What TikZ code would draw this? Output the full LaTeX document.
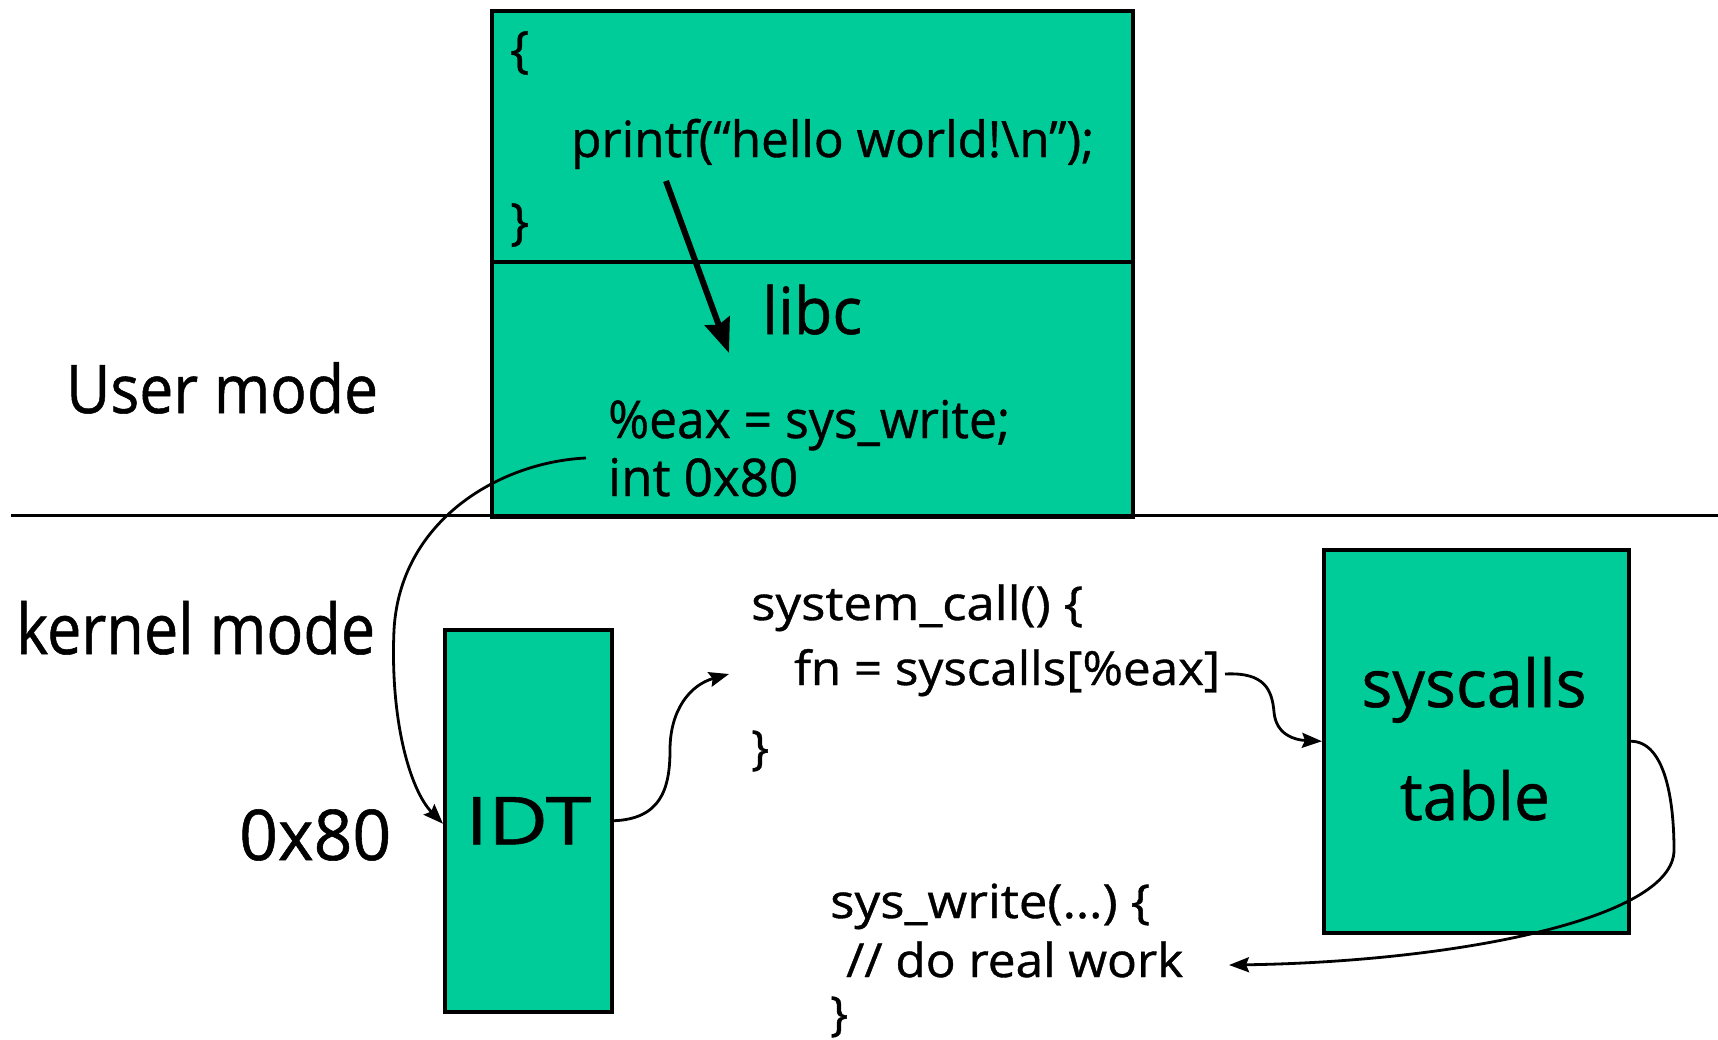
\documentclass[tikz,border=0pt]{standalone}
\usepackage{fontspec}
\setmainfont{Open Sans}[FakeBold=0.8]
\usepackage{graphicx}
\usetikzlibrary{arrows.meta}
\definecolor{boxgreen}{RGB}{0,204,153}
% font size in pt, and a horizontal fit to a given width
\newcommand\fsz[1]{\fontsize{#1}{#1}\selectfont}
\newcommand\fitto[2]{\resizebox{#1pt}{\height}{#2}}
\begin{document}
\begin{tikzpicture}[x=1pt,y=-1pt,
  panel/.style={draw=black,line width=3.5pt,fill=boxgreen,inner sep=0pt},
  lbl/.style={inner sep=0pt,anchor=base west},
  flow/.style={line width=2.8pt,-{Stealth[length=20pt,width=15pt,inset=3pt]}},
]
\useasboundingbox (0,0) rectangle (1718,1039);

% boxes
\node[panel,anchor=north west,minimum width=641pt,minimum height=251pt] (src) at (490,9) {};
\node[panel,anchor=north west,minimum width=641pt,minimum height=255pt] (libbox) at (490,260) {};
\node[panel,anchor=north west,minimum width=167pt,minimum height=382pt] (idt) at (443,628)
  {\fsz{66}\fitto{126}{IDT}};
\node[panel,anchor=north west,minimum width=305pt,minimum height=383pt] (tbl) at (1322,548) {};

% user / kernel boundary
\coordinate (ml) at (11,515);
\coordinate (mr) at (1718,515);
\draw[line width=3pt] (ml) -- (mr);

% user program
\node[inner sep=0pt,anchor=west] (ob) at (510,53) {\fsz{50}\{};
\node[lbl] (pf) at (571,157) {\fsz{50}\fitto{523}{printf(“hello world!\textbackslash n”);}};
\node[inner sep=0pt,anchor=west] (cb) at (510,225) {\fsz{50}\}};

% libc
\node[lbl] (libc) at (762,334) {\fsz{65}\fitto{100}{libc}};
\node[lbl] (eax) at (608,438) {\fsz{52}\fitto{402}{\%eax = sys\_write;}};
\node[lbl] (int) at (608,496) {\fsz{52}\fitto{190}{int 0x80}};

% mode labels
\node[lbl] (umode) at (66,413) {\fsz{67}\fitto{312}{User mode}};
\node[lbl] (kmode) at (16,654) {\fsz{70}\fitto{359}{kernel mode}};
\node[lbl] (vec) at (239,860) {\fsz{70}\fitto{152}{0x80}};

% system_call handler
\node[lbl] (sc1) at (751,620) {\fsz{47}\fitto{332}{system\_call() \{}};
\node[lbl] (sc2) at (794,685) {\fsz{47}\fitto{426}{fn = syscalls[\%eax]}};
\node[inner sep=0pt,anchor=west] (sc3) at (751,751) {\fsz{47}\}};

% syscalls table
\node[inner sep=0pt,anchor=base] (tl1) at (1474,707) {\fsz{66}\fitto{225}{syscalls}};
\node[inner sep=0pt,anchor=base] (tl2) at (1475,820) {\fsz{66}\fitto{150}{table}};

% sys_write
\node[lbl] (sw1) at (830,918) {\fsz{47}\fitto{320}{sys\_write(…) \{}};
\node[lbl] (sw2) at (846,977) {\fsz{47}\fitto{337}{// do real work}};
\node[inner sep=0pt,anchor=west] (sw3) at (830,1017) {\fsz{47}\}};

% printf -> libc
\coordinate (pa) at (666,181);
\coordinate (pb) at (729,353);
\draw[line width=6pt,-{Stealth[length=34pt,width=26pt,inset=4pt]}] (pa) -- (pb);

% int 0x80 -> IDT entry
\coordinate (c1s) at (586,458);
\draw[flow] (c1s) .. controls (500,462) and (400,520) .. (394,630)
  .. controls (390,720) and (410,790) .. ([yshift=-3pt]idt.west);

% IDT -> system_call
\coordinate (c2e) at (729,674);
\draw[flow] (idt.east) .. controls (660,819) and (670,790) .. (670,750)
  .. controls (670,710) and (690,685) .. (c2e);

% syscalls[%eax] -> table
\coordinate (c3s) at (1225,674);
\draw[flow] (c3s) .. controls (1265,672) and (1272,690) .. (1274,712)
  .. controls (1276,735) and (1295,740) .. (tbl.west);

% table -> sys_write
\coordinate (c4e) at (1229,965);
\draw[flow] (tbl.east) .. controls (1665,741) and (1674,800) .. (1674,850)
  .. controls (1674,920) and (1450,962) .. (c4e);
\end{tikzpicture}
\end{document}
